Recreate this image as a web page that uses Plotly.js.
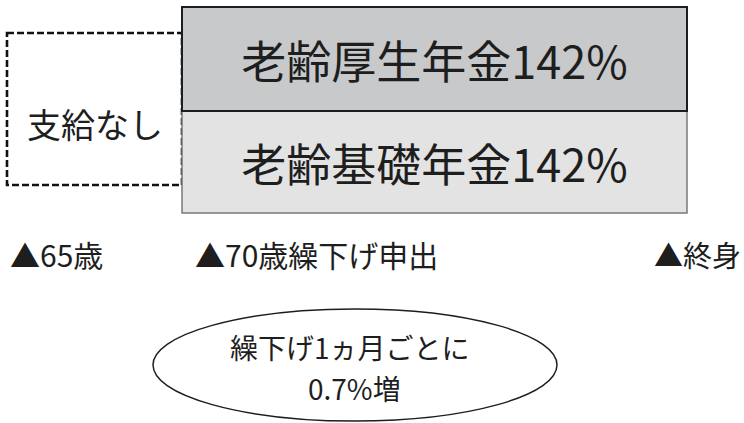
<!DOCTYPE html>
<html>
<head>
<meta charset="utf-8">
<script src="https://cdn.plot.ly/plotly-3.0.1.min.js"></script>
<style>html,body{margin:0;padding:0;background:#fff;}#chart{width:744px;height:423px;}</style>
</head>
<body>
<div id="chart"></div>
<script>
// ---- data ----
const pensions = ['老齢厚生年金', '老齢基礎年金'];
const rates = [142, 142];
const milestones = ['65歳', '70歳繰下げ申出', '終身'];
const noPayLabel = '支給なし';
const deferralUnit = '繰下げ1ヵ月ごとに';
const monthlyIncrease = 0.7;

// ---- layout constants (pixel-like axis units) ----
const FONT = '"Noto Sans CJK JP", "Noto Sans", sans-serif';
const boxLeft = 182, boxRight = 687;
const rowCenters = [59, 162];
const rowHeights = [104, 102];
const fills = ['#c8c9cb', '#e3e3e3'];
const borders = ['#1c1c24', '#7a7a7a'];
const borderW = [2, 1.5];
const milestonePos = [
  {x: 8, xanchor: 'left', size: 30},
  {x: 193, xanchor: 'left', size: 30},
  {x: 743, xanchor: 'right', size: 29}
];

// draw bottom row first so the darker top border sits above
const order = [1, 0];
const traces = order.map(i => ({
  type: 'bar',
  orientation: 'h',
  y: [rowCenters[i]],
  x: [boxRight - boxLeft],
  base: [boxLeft],
  width: [rowHeights[i]],
  marker: {color: fills[i], line: {color: borders[i], width: borderW[i]}},
  text: [pensions[i] + rates[i] + '%'],
  textposition: 'inside',
  insidetextanchor: 'middle',
  textangle: 0,
  constraintext: 'none',
  textfont: {family: FONT, size: 45, color: '#1e1e1e'},
  hoverinfo: 'skip'
}));

const annotations = [
  {x: 95, y: 123, text: noPayLabel, font: {family: FONT, size: 34, color: '#1e1e1e'}},
  ...milestones.map((m, i) => ({
    x: milestonePos[i].x, y: 254, xanchor: milestonePos[i].xanchor, text: '▲' + m,
    font: {family: FONT, size: milestonePos[i].size, color: '#1e1e1e'}
  })),
  {x: 350, y: 347, text: deferralUnit, font: {family: FONT, size: 28, color: '#1e1e1e'}},
  {x: 354, y: 388, text: monthlyIncrease + '%増', font: {family: FONT, size: 28, color: '#1e1e1e'}}
].map(a => Object.assign({xref: 'x', yref: 'y', showarrow: false, xanchor: 'center', yanchor: 'middle'}, a));

const shapes = [
  {type: 'rect', xref: 'x', yref: 'y', x0: 7, x1: 182, y0: 33, y1: 185,
   line: {color: '#111111', width: 2.6, dash: '7px,3px'}, fillcolor: 'rgba(0,0,0,0)', layer: 'below'},
  {type: 'circle', xref: 'x', yref: 'y', x0: 153, x1: 557, y0: 309, y1: 421,
   line: {color: '#1e1e1e', width: 1.5}, fillcolor: 'rgba(0,0,0,0)'}
];

const layout = {
  width: 744, height: 423,
  margin: {l: 0, r: 0, t: 0, b: 0},
  paper_bgcolor: '#ffffff', plot_bgcolor: '#ffffff',
  showlegend: false, hovermode: false,
  barmode: 'overlay',
  xaxis: {range: [0, 744], visible: false, fixedrange: true},
  yaxis: {range: [423, 0], visible: false, fixedrange: true},
  annotations: annotations,
  shapes: shapes
};

Plotly.newPlot('chart', traces, layout, {staticPlot: true, displayModeBar: false});
</script>
</body>
</html>
